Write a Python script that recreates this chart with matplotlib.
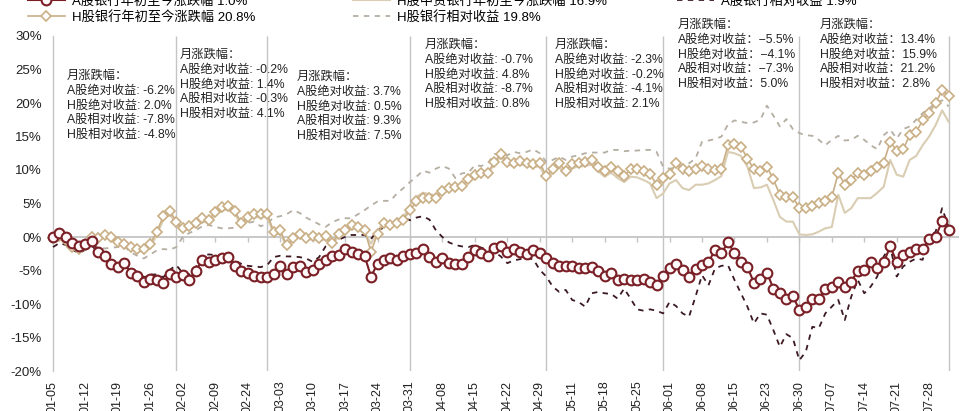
#-*- coding: utf-8 -*-
import numpy as np
import matplotlib
matplotlib.use('Agg')
import matplotlib.pyplot as plt

plt.rcParams['font.family'] = ['Liberation Sans', 'Noto Sans CJK SC', 'DejaVu Sans']
plt.rcParams['axes.unicode_minus'] = False

# ---- data, % change, one value per trading day 2026-01-05 .. 07-31
a_ytd = [0.0, 0.6, 0.0, -0.9, -1.4, -1.1, -0.6, -2.2, -2.9, -4.0,
         -4.5, -3.9, -5.4, -5.8, -6.7, -6.2, -6.4, -6.9, -5.5, -5.9,
         -5.7, -6.4, -5.0, -3.5, -3.8, -3.4, -3.2, -3.0, -4.3, -5.0,
         -5.4, -5.8, -6.0, -6.0, -5.5, -4.4, -5.5, -4.5, -4.4, -5.2,
         -4.9, -4.0, -3.4, -2.9, -2.7, -1.8, -2.3, -2.5, -2.8, -5.9,
         -4.0, -3.5, -3.2, -3.5, -2.9, -2.5, -2.4, -1.8, -3.0, -3.7,
         -3.2, -3.9, -4.0, -4.0, -3.0, -2.0, -2.4, -2.8, -1.7, -1.4,
         -2.2, -1.8, -2.2, -2.5, -2.0, -2.4, -3.2, -3.9, -4.3, -4.3,
         -4.3, -4.7, -4.7, -4.5, -5.0, -5.8, -5.4, -6.4, -6.2, -6.4,
         -6.4, -6.3, -6.7, -7.2, -5.8, -4.7, -4.0, -4.9, -5.9, -4.8,
         -4.2, -3.7, -2.0, -2.4, -0.8, -2.4, -3.7, -4.5, -6.8, -6.3,
         -5.3, -7.7, -8.4, -9.2, -8.8, -10.9, -10.4, -9.3, -9.3, -7.7,
         -7.4, -6.7, -7.4, -6.7, -5.0, -4.9, -3.8, -4.7, -3.8, -1.4,
         -3.7, -2.7, -2.2, -1.8, -1.8, -0.3, 0.0, 2.4, 1.0]

h_ytd = [-0.2, 0.2, -0.4, -1.5, -1.8, -1.2, 0.0, -0.2, 0.3, 0.0,
         -0.7, -1.0, -1.5, -1.8, -1.8, -1.0, 0.8, 3.1, 3.9, 2.3,
         1.3, 1.6, 2.1, 2.8, 2.5, 3.8, 4.5, 4.6, 3.9, 2.1,
         3.0, 3.5, 3.4, 3.5, 0.8, 1.0, -1.2, -0.2, 0.5, -0.2,
         0.1, -0.2, 0.1, -0.9, 0.5, 1.1, 1.8, 1.5, 1.1, -2.2,
         0.5, 2.1, 1.8, 2.1, 2.6, 4.0, 5.3, 5.8, 5.8, 5.8,
         6.8, 7.3, 7.5, 7.6, 8.6, 9.3, 9.5, 9.6, 11.2, 12.4,
         11.2, 11.1, 11.4, 11.1, 10.9, 11.1, 9.1, 10.2, 11.0, 9.8,
         10.9, 11.1, 11.2, 11.5, 10.5, 9.8, 10.5, 9.8, 9.1, 10.1,
         10.1, 9.8, 9.4, 7.8, 8.8, 9.4, 11.0, 10.2, 9.9, 10.2,
         10.6, 10.2, 10.0, 10.2, 13.7, 13.9, 13.5, 11.7, 10.1, 9.9,
         10.5, 8.6, 6.3, 5.9, 5.9, 4.4, 4.4, 4.6, 5.0, 5.4,
         5.9, 9.6, 7.8, 8.5, 9.6, 9.3, 9.8, 10.4, 11.1, 14.2,
         12.9, 13.1, 15.2, 15.7, 17.4, 18.5, 20.0, 21.9, 21.0]

hzz_ytd = [-0.3, 0.0, -0.5, -1.4, -1.9, -1.4, -0.3, -0.4, 0.1, -0.2,
           -0.9, -1.2, -1.7, -2.1, -2.2, -1.4, 0.3, 2.6, 3.4, 2.0,
           1.0, 1.2, 1.7, 2.3, 2.1, 3.3, 4.0, 4.1, 3.5, 1.8,
           2.6, 3.0, 2.9, 3.1, 0.4, 0.5, -1.4, -0.5, 0.1, -0.5,
           -0.3, -0.6, -0.3, -1.2, 0.1, 0.7, 1.4, 1.1, 0.6, -1.0,
           0.8, 2.3, 1.9, 2.4, 3.0, 4.6, 6.0, 6.6, 6.4, 6.2,
           7.0, 7.5, 7.6, 7.6, 8.5, 9.1, 9.3, 9.4, 10.9, 12.0,
           10.8, 10.6, 10.9, 10.6, 10.4, 10.6, 8.6, 9.7, 10.4, 9.3,
           10.3, 10.5, 10.6, 10.8, 9.8, 9.0, 9.6, 8.8, 8.2, 9.0,
           8.9, 8.5, 8.0, 5.8, 6.5, 8.0, 8.5, 7.3, 7.0, 7.8,
           7.8, 8.0, 8.5, 9.1, 12.7, 12.5, 12.1, 10.5, 7.3, 7.4,
           7.8, 5.5, 3.0, 2.3, 2.3, 0.4, 0.3, 0.4, 0.8, 1.3,
           1.5, 6.3, 3.6, 4.3, 5.8, 5.8, 5.8, 6.6, 7.5, 11.5,
           9.3, 9.0, 11.5, 12.1, 13.7, 15.0, 16.7, 18.9, 17.2]

a_rel = [-1.5, -0.9, -1.2, -1.9, -2.4, -1.9, -1.3, -2.4, -3.0, -3.8,
         -4.3, -3.6, -4.8, -5.2, -6.0, -5.6, -5.6, -6.0, -4.9, -4.2,
         -5.4, -5.6, -4.5, -2.8, -2.6, -2.7, -2.8, -2.6, -3.5, -4.0,
         -4.3, -4.4, -4.5, -4.2, -3.0, -2.8, -2.9, -2.9, -3.0, -3.2,
         -3.7, -3.0, -1.4, -0.9, -0.4, 0.0, 0.3, 0.3, 0.3, -0.3,
         1.0, 1.4, 1.6, 1.8, 2.9, 2.5, 2.9, 3.1, 2.6, 1.0,
         0.0, -0.8, -1.2, -1.4, -1.5, -1.2, -1.6, -1.9, -2.2, -2.9,
         -3.9, -3.5, -3.3, -3.2, -3.3, -4.9, -5.9, -7.4, -8.2, -7.9,
         -9.4, -9.7, -10.4, -8.4, -8.2, -8.4, -8.5, -9.2, -7.7, -9.2,
         -10.8, -11.0, -10.8, -11.0, -11.4, -9.7, -10.3, -11.4, -11.9, -8.9,
         -5.7, -7.2, -4.7, -4.3, -4.2, -6.4, -8.4, -10.4, -12.9, -11.4,
         -11.6, -13.9, -16.4, -14.5, -15.1, -18.4, -17.1, -13.4, -13.6, -11.4,
         -10.4, -9.4, -12.4, -8.9, -6.4, -8.4, -7.4, -5.9, -2.9, -1.4,
         -5.9, -4.4, -3.7, -3.2, -3.4, 0.0, 0.8, 4.3, 1.5]

h_rel = [0.0, -0.5, -0.8, -1.5, -1.8, -1.6, -1.2, -1.6, -1.7, -1.6,
         -1.5, -1.4, -2.3, -2.8, -3.2, -2.6, -2.0, -1.8, -1.9, -1.5,
         0.0, 0.6, 1.0, 1.6, 1.8, 1.5, 1.3, 1.3, 1.4, 1.8,
         2.1, 2.3, 1.6, 2.0, 2.9, 3.1, 3.4, 4.0, 3.6, 2.9,
         2.4, 1.9, 1.5, 2.2, 2.6, 2.8, 2.8, 3.4, 4.0, 4.7,
         5.3, 5.4, 5.4, 6.5, 7.3, 8.2, 9.0, 9.9, 9.6, 10.2,
         10.6, 10.2, 8.8, 9.5, 9.6, 10.7, 10.6, 11.0, 12.4, 12.2,
         12.2, 12.7, 12.5, 12.7, 13.1, 12.5, 11.2, 11.5, 12.0, 11.5,
         12.0, 12.2, 12.5, 12.6, 12.6, 12.6, 13.0, 13.0, 12.8, 12.9,
         12.9, 13.0, 13.0, 12.7, 10.5, 10.2, 10.3, 10.8, 11.0, 11.7,
         14.2, 14.4, 14.6, 15.0, 16.8, 17.4, 17.2, 17.0, 17.1, 17.5,
         19.6, 18.1, 16.5, 17.6, 16.1, 15.5, 15.2, 15.1, 14.5, 13.7,
         14.5, 15.1, 14.4, 14.5, 15.1, 14.5, 13.7, 13.1, 15.2, 16.0,
         14.7, 16.1, 16.5, 17.5, 18.5, 19.2, 20.0, 20.4, 19.5]

tick_labels = ['01-05', '01-12', '01-19', '01-26', '02-02', '02-09', '02-24',
               '03-03', '03-10', '03-17', '03-24', '03-31', '04-08', '04-15',
               '04-22', '04-29', '05-11', '05-18', '05-25', '06-01', '06-08',
               '06-15', '06-23', '06-30', '07-07', '07-14', '07-21', '07-28']
month_end = [19, 33, 55, 76, 94, 115, 138]   # index of last trading day of each month

# monthly figures printed in the boxes (Jan .. Jul)
m_a_abs = [-6.2, -0.2, 3.7, -0.7, -2.3, -5.5, 13.4]
m_h_abs = [2.0, 1.4, 0.5, 4.8, -0.2, -4.1, 15.9]
m_a_rel = [-7.8, -0.3, 9.3, -8.7, -4.1, -7.3, 21.2]
m_h_rel = [-4.8, 4.1, 7.5, 0.8, 2.1, 5.0, 2.8]

W, H = 966, 411
x = np.arange(len(a_ytd))

fig = plt.figure(figsize=(W / 100, H / 100), dpi=100)
ax = fig.add_axes([53 / W, 1 - 371 / H, 139.6 * 6.49 / W, 335 / H])

grid_c = '#c4c4c4'
ax.vlines(month_end, -20, 30, color=grid_c, lw=1.0, zorder=1)
ax.axhline(0, color=grid_c, lw=1.3, zorder=1)
ax.plot(np.arange(0, len(x), 5), np.zeros(len(tick_labels)), ls='none', marker=3,
        ms=3.5, mew=1.0, color=grid_c, zorder=1)

l_hrel, = ax.plot(x, h_rel, color='#b5aea3', lw=1.3, dashes=(3, 3), zorder=2, clip_on=False)
l_hzz, = ax.plot(x, hzz_ytd, color='#d9cdb3', lw=1.5, zorder=3, clip_on=False)
l_arel, = ax.plot(x, a_rel, color='#3d1a22', lw=1.3, dashes=(3, 3), zorder=3, clip_on=False)
l_h, = ax.plot(x, h_ytd, color='#c9ae86', lw=1.2, marker='D', ms=5, mew=1.2,
               mfc='white', mec='#c9ae86', zorder=4, clip_on=False)
l_a, = ax.plot(x, a_ytd, color='#7a1f26', lw=1.5, marker='o', ms=7, mew=1.5,
               mfc='#fff8f8', mec='#7a1f26', zorder=5, clip_on=False)

ax.set_xlim(0, 139.6)
ax.set_ylim(-20, 30)
ax.set_yticks(np.arange(-20, 31, 5))
ax.set_yticklabels(['%d%%' % v for v in np.arange(-20, 31, 5)], fontsize=9.5, color='#222222')
ax.set_xticks(np.arange(0, len(x), 5))
ax.set_xticklabels(tick_labels, rotation=90, fontsize=9, color='#222222')
ax.tick_params(axis='y', length=0, pad=8)
ax.tick_params(axis='x', length=0, pad=7)
for s in ['top', 'right', 'bottom']:
    ax.spines[s].set_visible(False)
ax.spines['left'].set_color(grid_c)
ax.spines['left'].set_linewidth(1.0)

# legend, three columns, top row runs off the picture
leg_kw = dict(loc='upper left', frameon=False, borderpad=0, borderaxespad=0,
              handlelength=2.8, handletextpad=0.5, labelspacing=0.2, fontsize=9.5)
fig.legend([l_a, l_h], ['A股银行年初至今涨跌幅 1.0%', 'H股银行年初至今涨跌幅 20.8%'],
           bbox_to_anchor=(28 / W, 1 + 5 / H), **leg_kw)
fig.legend([l_hzz, l_hrel], ['H股中资银行年初至今涨跌幅 16.9%', 'H股银行相对收益 19.8%'],
           bbox_to_anchor=(353 / W, 1 + 5 / H), **leg_kw)
fig.legend([l_arel], ['A股银行相对收益 1.9%'],
           bbox_to_anchor=(677 / W, 1 + 5 / H), **leg_kw)

# monthly text boxes
names = ['A股绝对收益', 'H股绝对收益', 'A股相对收益', 'H股相对收益']
box_xy = [(67, 78), (180, 57), (297, 79), (425, 47), (555, 47), (678, 27), (820, 27)]
for k, (px, py) in enumerate(box_xy):
    vals = [m_a_abs[k], m_h_abs[k], m_a_rel[k], m_h_rel[k]]
    if k < 5:
        lines = ['月涨跌幅：'] + ['%s: %.1f%%' % (n, v) for n, v in zip(names, vals)]
    else:
        lines = ['月涨跌幅：'] + ['%s：%s%%' % (n, ('%.1f' % v).replace('-', '−'))
                                 for n, v in zip(names, vals)]
    fig.text(px / W, 1 - (py - 8) / H, '\n'.join(lines), fontsize=8.8, color='#222222',
             va='top', ha='left', linespacing=1.3)

fig.savefig('out.png', dpi=100)
